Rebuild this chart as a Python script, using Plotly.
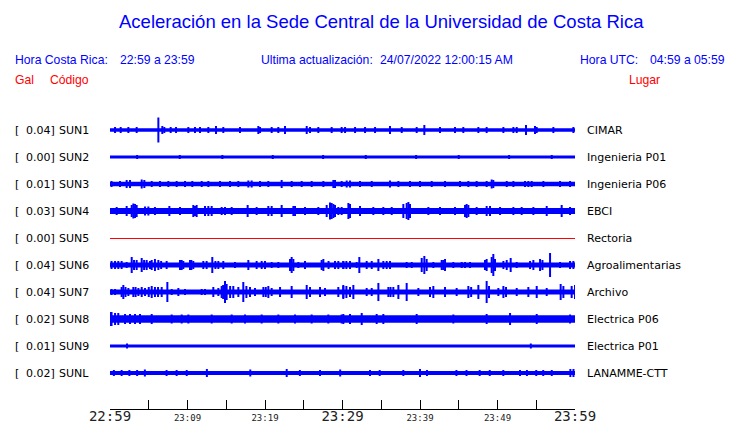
import plotly.graph_objects as go

# ---------------- data ----------------
stations = ["SUN1", "SUN2", "SUN3", "SUN4", "SUN5", "SUN6", "SUN7", "SUN8", "SUN9", "SUNL"]
places = ["CIMAR", "Ingenieria P01", "Ingenieria P06", "EBCI", "Rectoria",
          "Agroalimentarias", "Archivo", "Electrica P06", "Electrica P01", "LANAMME-CTT"]
peak_gal = ["0.04", "0.00", "0.01", "0.03", "0.00", "0.04", "0.04", "0.02", "0.01", "0.02"]

# minutes after 22:59 for the x axis ticks
tick_minutes = [0, 5, 10, 15, 20, 25, 30, 35, 40, 45, 50, 55, 60]
tick_labels = ["22:59", "", "23:09", "", "23:19", "", "23:29", "", "23:39", "", "23:49", "", "23:59"]
big_ticks = ["22:59", "23:29", "23:59"]

# background noise half-amplitude of every trace (relative units)
base_amp = [1.8, 1.6, 2.2, 2.9, 0.0, 2.4, 2.4, 3.7, 1.6, 2.1]

# bursts read from the record: time (minutes after 22:59) and half-amplitude (relative units)
sun1_t = [0.65, 1.38, 2.37, 3.44, 6.24, 6.75, 7.01, 7.83, 8.52, 10.11, 10.97, 11.61, 12.69, 13.68,
          14.62, 16.77, 19.14, 19.36, 20.86, 21.72, 22.58, 25.38, 25.81, 26.88, 28.6, 29.89, 30.33,
          31.62, 32.91, 34.2, 36.13, 37.64, 39.57, 40.56, 42.58, 44.52, 45.59, 47.53, 48.6, 50.76,
          52.05, 52.48, 53.68, 54.84, 55.06, 57.21, 59.79]
sun1_a = [3, 3, 3, 3, 12.5, 4, 3, 3, 3, 3, 3, 3, 3, 4, 3, 3, 4, 3, 3, 3, 4, 4, 3, 3, 3, 3, 3, 3, 3,
          3, 4, 3, 3, 5, 3, 3, 3, 3, 3, 3, 3, 3, 5, 4, 3, 3, 3]

sun2_t = [3.5, 9.0, 14.5, 21.0, 27.5, 33.0, 39.5, 45.0, 51.5, 57.0]
sun2_a = [2, 2, 2, 2, 2, 2, 2, 2, 2, 2]

sun3_t = [0.2, 1.29, 2.15, 2.58, 4.09, 4.43, 5.38, 6.45, 7.53, 8.6, 9.68, 10.62, 11.83, 12.69,
          14.19, 15.48, 16.56, 17.85, 18.28, 19.36, 20.43, 22.15, 23.44, 24.73, 26.02, 27.53,
          28.82, 29.03, 29.89, 30.54, 30.97, 32.26, 33.77, 36.13, 37.21, 38.71, 40.0, 41.51,
          43.23, 45.16, 46.24, 47.31, 48.6, 49.25, 49.46, 51.19, 52.05, 53.55, 53.98, 54.41,
          55.92, 58.07, 59.36]
sun3_a = [3, 3, 4, 4, 4.5, 4, 3, 3, 3, 3, 3, 3, 3, 3, 3, 3, 3, 3.5, 3.5, 3, 3, 4, 3, 3, 3, 3,
          4, 4, 3, 3.5, 3.5, 3, 3, 3.5, 3, 3, 3, 3, 3, 3, 3, 3, 3, 4.5, 4, 3, 3, 3, 3, 3, 3, 3, 3]

sun4_t = [0.86, 2.15, 2.8, 3.01, 3.23, 3.44, 4.52, 4.95, 5.8, 7.66, 9.03, 10.75, 10.97, 11.18,
          12.26, 12.69, 13.12, 14.41, 14.84, 15.7, 17.76, 18.92, 20.43, 20.86, 22.15, 23.66,
          23.87, 25.16, 26.88, 27.96, 28.39, 28.6, 28.82, 29.03, 29.46, 29.89, 30.76, 30.97,
          32.26, 33.98, 35.27, 36.35, 37.85, 38.28, 38.5, 38.71, 41.08, 42.58, 44.52, 45.81,
          46.02, 46.24, 47.31, 48.6, 49.03, 50.33, 52.05, 53.12, 54.63, 56.35, 58.28, 59.36]
sun4_a = [4, 5, 6, 7.5, 7, 6, 4.5, 4.5, 4, 5, 4, 6, 5, 6, 5, 5, 5, 4, 4, 4, 6, 4, 5, 5, 6, 5, 5,
          4, 4, 6, 8.5, 8, 7, 6, 4, 4, 8, 7, 5, 4, 4, 4, 7, 8, 9, 7, 4, 4, 4, 6, 7, 6, 4, 5, 5, 4,
          4, 4, 4, 5, 6, 4]

sun5_t = []
sun5_a = []

sun6_t = [0.2, 0.65, 1.07, 1.5, 2.15, 2.8, 3.1, 3.44, 4.09, 4.4, 4.73, 5.16, 5.38, 5.8, 6.24,
          6.6, 7.31, 9.03, 9.25, 9.46, 10.32, 10.5, 10.75, 12.04, 12.47, 13.2, 13.6, 13.98, 14.62,
          16.13, 17.85, 18.92, 19.57, 20.0, 20.86, 21.72, 23.23, 23.44, 23.66, 24.3, 25.16,
          27.31, 27.53, 28.2, 29.03, 29.46, 30.1, 30.11, 30.5, 30.97, 31.83, 32.17, 33.12,
          33.77, 34.63, 35.27, 35.7, 36.13, 38.28, 38.93, 40.22, 40.56, 40.86, 41.72, 42.8,
          43.0, 43.23, 44.3, 45.38, 45.81, 46.45, 48.39, 48.6, 49.25, 49.46, 49.68, 50.76,
          51.19, 51.7, 52.48, 54.2, 54.63, 55.49, 55.8, 56.78, 58.07, 59.36, 59.79]
sun6_a = [4, 4, 4, 4, 3, 8, 5, 5, 7, 5, 5, 4, 5, 6, 5, 4, 4, 5, 5, 4, 5, 5, 4, 4, 4, 8, 4, 4,
          4, 3, 5, 4, 4, 4, 3, 3, 6, 8, 6, 3, 4, 5, 6, 4, 4, 4, 4, 4, 4, 4, 3, 8, 4, 4, 6, 4, 4,
          4, 3, 3, 7, 9, 6, 3, 5, 5, 6, 3, 3, 3, 3, 5, 6, 8, 11, 6, 4, 5, 7, 3, 4, 5, 6, 5, 12,
          3, 4, 4]

sun7_t = [0.2, 0.65, 1.5, 1.72, 2.0, 2.37, 3.01, 3.3, 3.66, 4.09, 4.52, 5.0, 5.38, 5.8, 6.2,
          6.67, 7.4, 7.96, 8.82, 9.68, 11.83, 12.26, 13.33, 13.98, 14.41, 14.6, 14.84, 15.05,
          15.5, 15.91, 16.56, 17.2, 17.6, 18.06, 18.71, 19.79, 20.1, 20.43, 20.86, 21.94,
          23.44, 25.38, 25.81, 27.1, 27.74, 29.46, 30.1, 30.11, 30.5, 30.97, 31.4, 33.12,
          33.77, 34.63, 35.92, 36.2, 36.56, 37.21, 38.28, 39.79, 41.29, 41.72, 43.23, 44.73,
          46.24, 46.6, 47.53, 48.6, 48.9, 50.11, 50.76, 51.1, 52.48, 53.98, 55.06, 56.35,
          58.15, 58.5, 59.57, 60.0]
sun7_a = [3, 3, 5, 7, 5, 4, 5, 5, 4, 5, 4, 5, 6, 5, 5, 5, 10, 3, 4, 3, 3, 3, 5, 4, 6, 7, 11, 8,
          6, 6, 5, 10, 6, 5, 4, 5, 5, 6, 4, 5, 6, 7, 5, 5, 4, 5, 7, 6, 6, 5, 7, 4, 4, 9, 5, 5, 5,
          7, 9, 4, 5, 6, 5, 4, 6, 5, 7, 11, 6, 4, 6, 5, 4, 5, 6, 4, 8, 6, 6, 7]

sun8_t = [0.0, 0.2, 0.65, 1.07, 1.94, 2.58, 3.23, 3.87, 5.38, 7.96, 9.25, 10.11, 13.12, 15.7,
          17.42, 19.57, 21.72, 23.87, 26.02, 28.17, 29.89, 30.11, 30.97, 32.48, 34.41, 35.27,
          39.57, 44.3, 48.6, 51.62, 55.06, 59.36]
sun8_a = [7, 7, 6, 6, 5, 5, 5, 5, 5, 4.5, 4.5, 4.5, 4.5, 4.5, 4.5, 4.5, 4.5, 4.5, 4.5, 4.5, 4.5,
          5, 5, 6, 5, 5, 5, 4.5, 5, 6, 5, 4.5]

sun9_t = [2.2, 54.3]
sun9_a = [2.5, 2.5]

sunl_t = [0.5, 1.5, 2.5, 3.5, 4.5, 7.3, 8.6, 9.9, 12.5, 18.1, 22.8, 24.5, 27.1, 29.7, 33.55,
          34.8, 37.85, 40.0, 40.9, 44.7, 46.0, 47.7, 49.0, 50.75, 52.9, 53.8, 55.0, 55.9, 57.0,
          59.4, 59.8]
sunl_a = [3, 3, 3, 3, 3.5, 3, 3, 3, 4, 3.5, 4, 3, 3, 3.5, 3, 3, 3, 4, 3, 3, 3, 3, 3, 3, 3, 3, 3,
          3, 3, 4, 4]

burst_t = [sun1_t, sun2_t, sun3_t, sun4_t, sun5_t, sun6_t, sun7_t, sun8_t, sun9_t, sunl_t]
burst_a = [sun1_a, sun2_a, sun3_a, sun4_a, sun5_a, sun6_a, sun7_a, sun8_a, sun9_a, sunl_a]

# ---------------- layout constants ----------------
W, H = 740, 423
L, R, T, B = 110, 165, 110, 14          # plot area 110..575 x 110..409
ROW_PX = 27                              # pixel distance between traces
FIRST_ROW_PX = 130
y_bottom = (H - B - FIRST_ROW_PX) / ROW_PX
y_top = (T - FIRST_ROW_PX) / ROW_PX
BLUE = "#0000ff"
RED = "#ff0000"
PIXEL_SNAP = 0.5 / ROW_PX                # keeps the 1px flat line on a whole pixel

fig = go.Figure()

for i, st in enumerate(stations):
    if st == "SUN5":
        fig.add_trace(go.Scatter(x=[0, 60], y=[i + PIXEL_SNAP, i + PIXEL_SNAP], mode="lines",
                                 line=dict(color=RED, width=1), hoverinfo="skip", showlegend=False))
        continue
    fig.add_trace(go.Scatter(x=[0, 60], y=[i, i], mode="lines",
                             line=dict(color=BLUE, width=2 * base_amp[i]),
                             hoverinfo="skip", showlegend=False))
    xs, ys = [], []
    for t, a in zip(burst_t[i], burst_a[i]):
        xs += [t, t, None]
        ys += [i - a / ROW_PX, i + a / ROW_PX, None]
    if xs:
        fig.add_trace(go.Scatter(x=xs, y=ys, mode="lines",
                                 line=dict(color=BLUE, width=2),
                                 hoverinfo="skip", showlegend=False))

ticktext = []
for lab in tick_labels:
    if lab in big_ticks:
        ticktext.append('<span style="font-size:14px">' + lab + '</span>')
    else:
        ticktext.append(lab)

LBL_FONT = dict(family="DejaVu Sans", size=11, color="#000000")
PAD = 2   # annotation box padding


def px_x(px):
    return (px - L) / (W - L - R)


ann = []
for i, st in enumerate(stations):
    ann.append(dict(x=px_x(15 - PAD), y=i, xref="paper", yref="y", text="[", showarrow=False,
                    xanchor="left", yanchor="middle", font=LBL_FONT))
    ann.append(dict(x=px_x(55 + PAD), y=i, xref="paper", yref="y", text=peak_gal[i] + "]",
                    showarrow=False, xanchor="right", yanchor="middle", font=LBL_FONT))
    ann.append(dict(x=px_x(59 - PAD), y=i, xref="paper", yref="y", text=st, showarrow=False,
                    xanchor="left", yanchor="middle", font=LBL_FONT))
    ann.append(dict(x=px_x(587 - PAD), y=i, xref="paper", yref="y", text=places[i], showarrow=False,
                    xanchor="left", yanchor="middle", font=LBL_FONT))


def top_text(text, px, py, anchor, size, color):
    if anchor == "left":
        px -= PAD
    return dict(text=text, x=px_x(px), y=(H - B - py) / (H - T - B),
                xref="paper", yref="paper", xanchor=anchor, yanchor="middle",
                showarrow=False, font=dict(family="Liberation Sans", size=size, color=color))


HDR = 12.2
ann += [
    top_text("Aceleración en la Sede Central de la Universidad de Costa Rica", 381, 22, "center", 18.5, BLUE),
    top_text("Hora Costa Rica:", 15, 60, "left", HDR, BLUE),
    top_text("22:59 a 23:59", 120, 60, "left", HDR, BLUE),
    top_text("Ultima actualización:", 261, 60, "left", HDR, BLUE),
    top_text("24/07/2022 12:00:15 AM", 380, 60, "left", HDR, BLUE),
    top_text("Hora UTC:", 580, 60, "left", HDR, BLUE),
    top_text("04:59 a 05:59", 650, 60, "left", HDR, BLUE),
    top_text("Gal", 15, 80, "left", HDR, RED),
    top_text("Código", 50, 80, "left", HDR, RED),
    top_text("Lugar", 629, 80, "left", HDR, RED),
]

fig.update_layout(
    width=W, height=H,
    margin=dict(l=L, r=R, t=T, b=B, pad=0, autoexpand=False),
    paper_bgcolor="white", plot_bgcolor="white",
    showlegend=False,
    annotations=ann,
    xaxis=dict(range=[0, 60], tickvals=tick_minutes, ticktext=ticktext,
               showline=True, linecolor="black", linewidth=1,
               ticks="inside", ticklen=9, tickcolor="black", tickwidth=1,
               tickfont=dict(family="DejaVu Sans Mono", size=9, color="#222222"),
               showgrid=False, zeroline=False, fixedrange=True, tickangle=0,
               automargin=False),
    yaxis=dict(range=[y_bottom, y_top], visible=False, showgrid=False, zeroline=False,
               fixedrange=True, automargin=False),
)

fig.write_html("out.html", config={"responsive": False, "displayModeBar": False},
               post_script="document.body.style.margin='0px';document.body.style.overflow='hidden';")
